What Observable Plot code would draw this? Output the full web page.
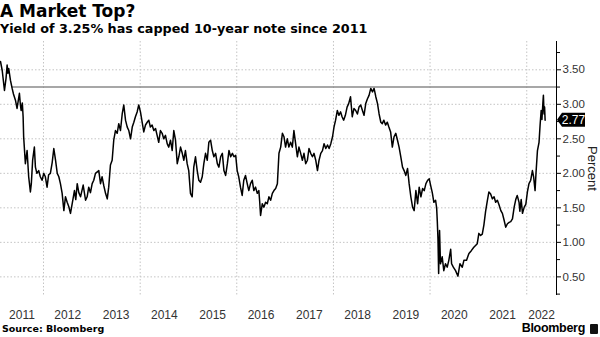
<!DOCTYPE html>
<html>
<head>
<meta charset="utf-8">
<script src="https://cdn.jsdelivr.net/npm/d3@7"></script>
<script src="https://cdn.jsdelivr.net/npm/@observablehq/plot@0.6"></script>
<style>
  html, body { margin: 0; padding: 0; background: #fff; }
  body { width: 600px; height: 337px; position: relative; overflow: hidden; }
  #title { position: absolute; left: 0; top: 1px; font: bold 17px "DejaVu Sans", sans-serif; color: #000; white-space: nowrap; }
  #subtitle { position: absolute; left: 0; top: 21px; font: bold 12.75px "DejaVu Sans", sans-serif; color: #000; white-space: nowrap; }
  #chart { position: absolute; left: 0; top: 40px; }
  #source { position: absolute; left: 2px; top: 323px; font: bold 9.5px "DejaVu Sans", sans-serif; color: #000; white-space: nowrap; }
  #brand { position: absolute; right: 15px; top: 321px; font: bold 12.5px "Liberation Sans", Arial, sans-serif; color: #000; letter-spacing: -0.3px; white-space: nowrap; }
  #logo { position: absolute; left: 590px; top: 324px; width: 8px; height: 10px; background: #111; border-radius: 1px; }
</style>
</head>
<body>
<div id="title">A Market Top?</div>
<div id="subtitle">Yield of 3.25% has capped 10-year note since 2011</div>
<div id="chart"></div>
<div id="source">Source: Bloomberg</div>
<div id="brand">Bloomberg</div>
<div id="logo"></div>
<script>
// ---- data ----
const series10y = [
  ["2011-02-10",3.62],["2011-02-23",3.49],["2011-03-12",3.20],["2011-03-24",3.38],["2011-04-01",3.57],["2011-04-07",3.45],["2011-04-13",3.52],["2011-04-26",3.35],["2011-05-09",3.23],["2011-05-19",3.15],["2011-06-03",3.06],["2011-06-15",2.94],["2011-07-03",3.16],["2011-07-10",3.00],["2011-07-16",2.91],["2011-07-25",3.02],["2011-07-31",2.82],["2011-08-04",2.53],["2011-08-17",2.14],["2011-08-30",2.33],["2011-09-11",1.95],["2011-09-24",1.73],["2011-10-01",1.85],["2011-10-11",2.19],["2011-10-24",2.38],["2011-11-01",2.09],["2011-11-12",2.00],["2011-11-26",2.04],["2011-12-08",1.95],["2011-12-21",1.90],
  ["2012-01-03",2.00],["2012-01-15",1.95],["2012-01-28",1.80],["2012-02-09",1.98],["2012-02-22",2.00],["2012-03-07",2.16],["2012-03-19",2.36],["2012-04-01",2.19],["2012-04-14",2.00],["2012-04-26",1.95],["2012-05-08",1.85],["2012-05-21",1.71],["2012-06-03",1.46],["2012-06-15",1.66],["2012-06-28",1.58],["2012-07-10",1.52],["2012-07-23",1.42],["2012-08-05",1.56],["2012-08-22",1.75],["2012-09-01",1.62],["2012-09-12",1.85],["2012-09-24",1.72],["2012-10-07",1.66],["2012-10-27",1.83],["2012-11-14",1.61],["2012-11-26",1.66],["2012-12-08",1.80],["2012-12-21",1.72],
  ["2013-01-03",1.85],["2013-01-15",1.90],["2013-01-28",2.00],["2013-02-22",2.04],["2013-03-07",1.85],["2013-03-19",1.95],["2013-04-01",1.82],["2013-04-14",1.71],["2013-04-27",1.63],["2013-05-08",1.80],["2013-05-21",2.12],["2013-06-03",2.19],["2013-06-15",2.48],["2013-06-28",2.62],["2013-07-11",2.58],["2013-07-23",2.72],["2013-08-05",2.62],["2013-08-18",2.86],["2013-08-30",2.99],["2013-09-12",2.77],["2013-09-25",2.67],["2013-10-07",2.62],["2013-10-20",2.50],["2013-11-02",2.67],["2013-11-14",2.74],["2013-11-26",2.82],["2013-12-09",2.89],["2013-12-21",2.99],
  ["2014-01-03",2.89],["2014-01-16",2.74],["2014-01-28",2.60],["2014-02-10",2.70],["2014-02-23",2.74],["2014-03-07",2.77],["2014-03-19",2.67],["2014-04-01",2.70],["2014-04-14",2.62],["2014-04-27",2.65],["2014-05-09",2.55],["2014-05-21",2.45],["2014-06-03",2.62],["2014-06-16",2.58],["2014-06-28",2.50],["2014-07-11",2.55],["2014-07-24",2.43],["2014-08-05",2.38],["2014-08-18",2.48],["2014-08-31",2.33],["2014-09-12",2.62],["2014-09-25",2.48],["2014-10-08",2.14],["2014-10-20",2.24],["2014-11-02",2.38],["2014-11-15",2.29],["2014-11-27",2.19],["2014-12-09",2.33],["2014-12-22",2.14],
  ["2015-01-03",2.04],["2015-01-16",1.71],["2015-01-29",1.66],["2015-02-10",2.09],["2015-02-23",2.24],["2015-03-08",2.04],["2015-03-20",1.90],["2015-04-02",1.87],["2015-04-15",1.95],["2015-04-27",2.14],["2015-05-10",2.29],["2015-05-23",2.19],["2015-06-04",2.45],["2015-06-17",2.48],["2015-06-30",2.33],["2015-07-12",2.24],["2015-07-25",2.29],["2015-08-07",2.14],["2015-08-19",2.09],["2015-09-01",2.24],["2015-09-14",2.29],["2015-09-26",2.04],["2015-10-09",1.97],["2015-10-22",2.14],["2015-11-03",2.33],["2015-11-16",2.24],["2015-11-29",2.29],["2015-12-11",2.24],["2015-12-24",2.26],
  ["2016-01-04",2.04],["2016-01-16",1.95],["2016-01-29",1.80],["2016-02-11",1.68],["2016-02-23",1.90],["2016-03-07",1.97],["2016-03-20",1.85],["2016-04-01",1.75],["2016-04-14",1.85],["2016-04-27",1.90],["2016-05-09",1.75],["2016-05-22",1.80],["2016-06-04",1.71],["2016-06-16",1.75],["2016-06-22",1.60],["2016-06-29",1.39],["2016-07-12",1.56],["2016-07-24",1.51],["2016-08-06",1.58],["2016-08-19",1.56],["2016-08-31",1.66],["2016-09-13",1.61],["2016-09-26",1.71],["2016-10-08",1.75],["2016-10-21",1.78],["2016-11-03",1.85],["2016-11-15",2.29],["2016-11-28",2.38],["2016-12-11",2.58],["2016-12-23",2.53],
  ["2017-01-04",2.38],["2017-01-17",2.50],["2017-01-29",2.38],["2017-02-11",2.45],["2017-02-24",2.38],["2017-03-08",2.62],["2017-03-21",2.43],["2017-04-03",2.24],["2017-04-15",2.38],["2017-04-28",2.29],["2017-05-11",2.19],["2017-05-23",2.29],["2017-06-05",2.14],["2017-06-18",2.19],["2017-06-30",2.36],["2017-07-13",2.29],["2017-07-26",2.24],["2017-08-07",2.29],["2017-08-20",2.19],["2017-09-02",2.04],["2017-09-14",2.19],["2017-09-27",2.29],["2017-10-10",2.33],["2017-10-22",2.43],["2017-11-04",2.36],["2017-11-17",2.41],["2017-11-29",2.36],["2017-12-12",2.43],["2017-12-25",2.53],
  ["2018-01-05",2.67],["2018-01-17",2.77],["2018-01-30",2.91],["2018-02-11",2.84],["2018-02-24",2.89],["2018-03-07",2.82],["2018-03-19",2.77],["2018-04-01",2.84],["2018-04-14",2.96],["2018-04-26",3.01],["2018-05-10",3.11],["2018-05-23",2.82],["2018-06-05",2.94],["2018-06-18",2.91],["2018-07-01",2.86],["2018-07-13",2.96],["2018-07-26",2.99],["2018-08-08",2.91],["2018-08-20",2.84],["2018-09-02",3.01],["2018-09-15",3.08],["2018-09-27",3.13],["2018-10-10",3.23],["2018-10-23",3.18],["2018-11-04",3.23],["2018-11-17",3.11],["2018-11-30",3.01],["2018-12-12",2.86],["2018-12-25",2.74],
  ["2019-01-05",2.72],["2019-01-17",2.77],["2019-01-30",2.70],["2019-02-12",2.74],["2019-02-24",2.67],["2019-03-09",2.60],["2019-03-22",2.38],["2019-04-04",2.53],["2019-04-17",2.58],["2019-04-30",2.48],["2019-05-12",2.38],["2019-05-25",2.24],["2019-06-07",2.09],["2019-06-19",2.04],["2019-07-02",1.97],["2019-07-15",2.07],["2019-07-27",1.85],["2019-08-09",1.66],["2019-08-22",1.51],["2019-09-03",1.46],["2019-09-16",1.75],["2019-09-29",1.56],["2019-10-11",1.80],["2019-10-24",1.66],["2019-11-06",1.78],["2019-11-18",1.75],["2019-12-01",1.85],["2019-12-14",1.90],["2019-12-26",1.92],
  ["2020-01-05",1.83],["2020-01-18",1.72],["2020-01-30",1.58],["2020-02-12",1.61],["2020-02-20",1.50],["2020-02-25",1.30],["2020-03-01",1.05],["2020-03-06",0.55],["2020-03-13",1.17],["2020-03-20",0.69],["2020-04-02",0.79],["2020-04-14",0.59],["2020-04-27",0.69],["2020-05-10",0.64],["2020-05-22",0.74],["2020-06-05",0.90],["2020-06-12",0.69],["2020-06-25",0.64],["2020-07-12",0.59],["2020-07-30",0.51],["2020-08-14",0.69],["2020-09-01",0.64],["2020-09-13",0.74],["2020-10-03",0.74],["2020-10-21",0.84],["2020-11-08",0.88],["2020-11-27",0.93],["2020-12-23",0.98],
  ["2021-01-04",1.13],["2021-01-17",1.10],["2021-01-30",1.12],["2021-02-11",1.25],["2021-02-24",1.45],["2021-03-09",1.60],["2021-03-21",1.73],["2021-04-03",1.70],["2021-04-16",1.63],["2021-04-29",1.66],["2021-05-11",1.58],["2021-05-24",1.61],["2021-06-06",1.54],["2021-06-19",1.46],["2021-07-01",1.42],["2021-07-14",1.32],["2021-07-26",1.22],["2021-08-08",1.27],["2021-08-21",1.29],["2021-09-02",1.30],["2021-09-15",1.34],["2021-09-28",1.51],["2021-10-10",1.62],["2021-10-21",1.68],["2021-11-04",1.58],["2021-11-10",1.45],["2021-11-20",1.62],["2021-11-30",1.42],["2021-12-13",1.51],["2021-12-25",1.55],
  ["2022-01-06",1.73],["2022-01-18",1.85],["2022-01-31",1.90],["2022-02-13",2.04],["2022-02-22",1.95],["2022-03-05",1.75],["2022-03-12",2.00],["2022-03-23",2.33],["2022-04-04",2.45],["2022-04-12",2.70],["2022-04-20",2.91],["2022-04-26",2.78],["2022-05-03",3.02],["2022-05-07",3.13],["2022-05-12",2.86],["2022-05-16",2.96],["2022-05-20",2.77]
];
const capLevel = 3.25;
const capStart = "2011-05-10";
const xDomain = ["2011-02-10", "2022-08-14"];
const yDomain = [0.23, 3.91];
const majorTicks = [0.5, 1.0, 1.5, 2.0, 2.5, 3.0, 3.5];
const minorTicks = [0.25, 0.75, 1.25, 1.75, 2.25, 2.75, 3.25, 3.75];
const gridDates = ["2012-01-01", "2014-01-01", "2016-01-01", "2018-01-01", "2020-01-01", "2022-01-01"];
const yearLabels = [2011, 2012, 2013, 2014, 2015, 2016, 2017, 2018, 2019, 2020, 2021, 2022];
const yAxisLabel = "Percent";

// ---- build ----
const parse = d3.utcParse("%Y-%m-%d");
const data = series10y.map(([d, v]) => ({date: parse(d), value: v}));
const xStart = parse(xDomain[0]), xEnd = parse(xDomain[1]);
const gridX = gridDates.map(parse);
// label each year near the middle of its visible span
const labelDates = yearLabels.map(y => {
  const a = Math.max(Date.UTC(y, 0, 1), +xStart);
  const b = Math.min(Date.UTC(y + 1, 0, 1), +xEnd);
  return new Date((a + b) / 2);
});
const gridStyle = {stroke: "#c4c4c4", strokeOpacity: 1, strokeDasharray: "1.5,2", strokeWidth: 1};

const chart = Plot.plot({
  width: 600,
  height: 282,
  marginTop: 1,
  marginBottom: 27,
  marginLeft: 0,
  marginRight: 44,
  x: {type: "utc", domain: [xStart, xEnd]},
  y: {domain: yDomain},
  style: {fontFamily: "'Liberation Sans', Arial, sans-serif", fontSize: "12px", color: "#222", background: "#fff", overflow: "visible"},
  marks: [
    Plot.gridY(majorTicks, gridStyle),
    Plot.gridX(gridX, gridStyle),
    Plot.ruleY([{y: capLevel, x1: parse(capStart), x2: xEnd}], {y: "y", x1: "x1", x2: "x2", stroke: "#8a8a8a", strokeWidth: 1.5}),
    Plot.lineY(data, {x: "date", y: "value", stroke: "#000", strokeWidth: 1.5, strokeLinejoin: "round"}),
    Plot.ruleX([xEnd], {stroke: "#000", strokeWidth: 1}),
    Plot.axisY(majorTicks, {anchor: "right", tickSize: 4, tickPadding: 2, tickFormat: d3.format(".2f"), fontSize: 11.5, stroke: "#000", fill: "#333"}),
    Plot.axisY(minorTicks, {anchor: "right", tickSize: 3, tickFormat: () => "", stroke: "#000"}),
    Plot.axisX(labelDates, {anchor: "bottom", tickSize: 0, tickPadding: 15, tickFormat: d3.utcFormat("%Y"), fontSize: 12, fill: "#333"}),
    Plot.text([yAxisLabel], {frameAnchor: "right", textAnchor: "middle", dx: 36, rotate: 90, fontSize: 13, fill: "#222"})
  ]
});

// last-value badge positioned through the plot's own scales
const last = data[data.length - 1];
const ys = chart.scale("y").apply(last.value);
const xs = chart.scale("x").apply(xEnd);
const badge = d3.select(chart).append("g");
badge.append("path")
  .attr("d", `M${xs + 1},${ys} L${xs + 6},${ys - 7} H${xs + 29} V${ys + 7} H${xs + 6} Z`)
  .attr("fill", "#000");
badge.append("text")
  .attr("x", xs + 17.5).attr("y", ys).attr("dy", "0.35em")
  .attr("text-anchor", "middle").attr("fill", "#fff")
  .attr("font-size", 12).attr("font-family", "'Liberation Sans', Arial, sans-serif")
  .text(d3.format(".2f")(last.value));

document.getElementById("chart").appendChild(chart);
</script>
</body>
</html>
